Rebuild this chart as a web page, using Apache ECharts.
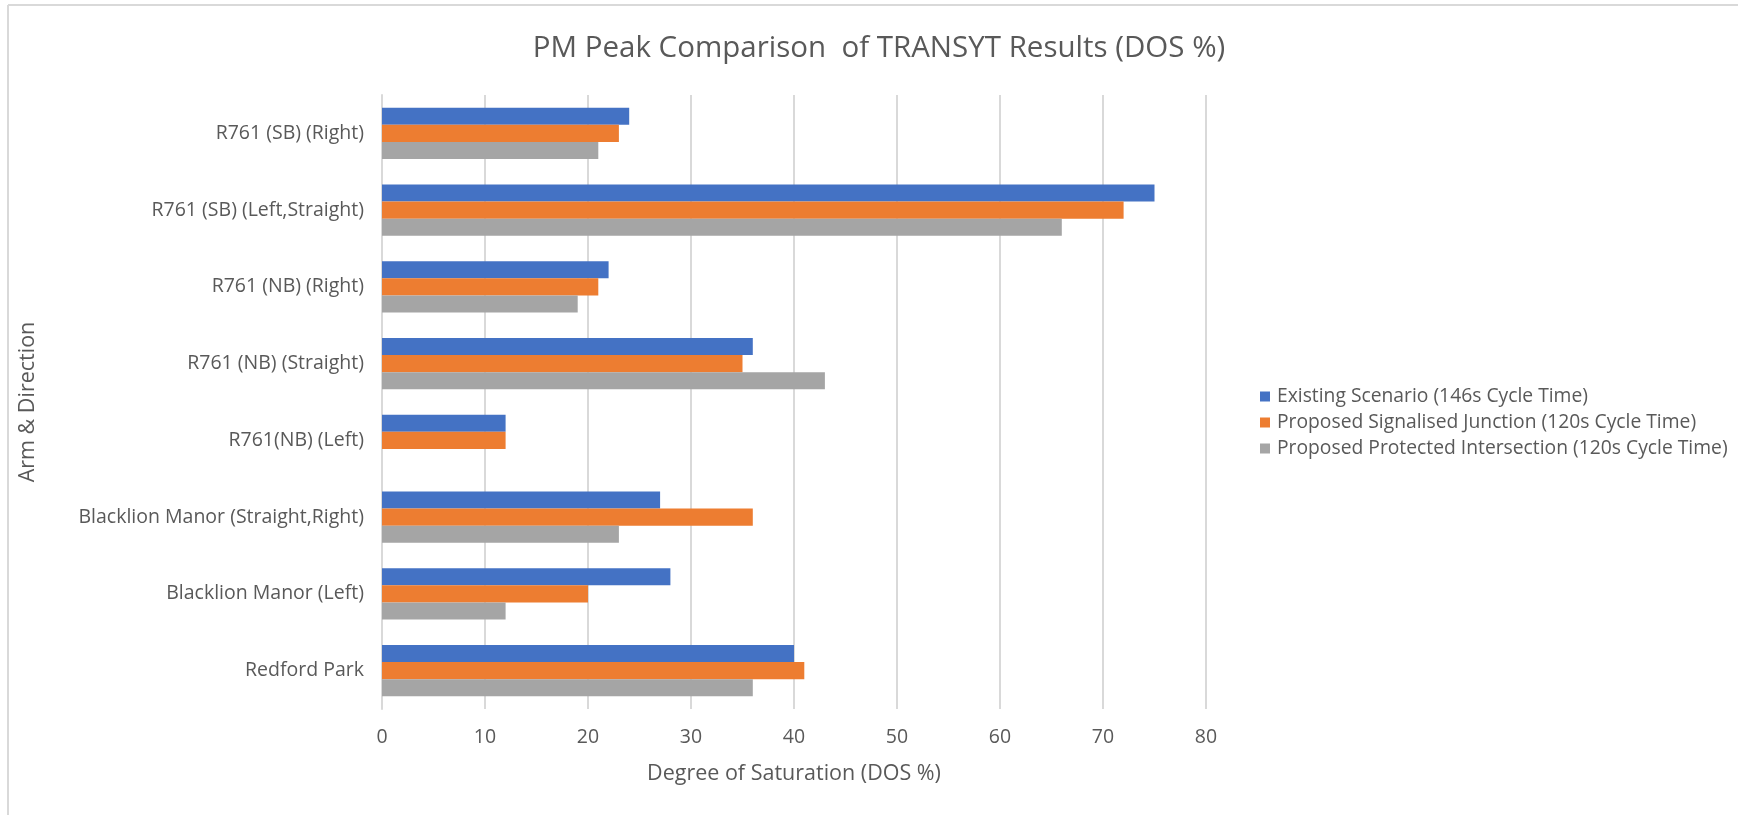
<!DOCTYPE html>
<html lang="en">

<head>
    <meta charset="UTF-8">
    <title>PM Peak Comparison of TRANSYT Results</title>
    <script src="https://cdn.jsdelivr.net/npm/echarts@6/dist/echarts.min.js"></script>
    <style>
        html, body { margin: 0; padding: 0; background: #fff; }
    </style>
</head>

<body>
<div id="main" style="width: 1738px; height: 815px;"></div>
<script>
    // categories, top to bottom as read on the chart
    const arms = [
        'R761 (SB) (Right)',
        'R761 (SB) (Left,Straight)',
        'R761 (NB) (Right)',
        'R761 (NB) (Straight)',
        'R761(NB) (Left)',
        'Blacklion Manor (Straight,Right)',
        'Blacklion Manor (Left)',
        'Redford Park'
    ]
    const existing = [24, 75, 22, 36, 12, 27, 28, 40]
    const signalised = [23, 72, 21, 35, 12, 36, 20, 41]
    const protectedInt = [21, 66, 19, 43, 0, 23, 12, 36]
    const seriesNames = [
        'Existing Scenario (146s Cycle Time)',
        'Proposed Signalised Junction (120s Cycle Time)',
        'Proposed Protected Intersection (120s Cycle Time)'
    ]
    const colors = ['#4472C4', '#ED7D31', '#A5A5A5']

    const font = 'Open Sans'
    const textColor = '#595959'
    const gridColor = '#D9D9D9'

    const chart = echarts.init(document.getElementById('main'))

    const mkSeries = (name, data, i) => ({
        name: name,
        type: 'bar',
        data: data,
        barGap: '0%',
        barCategoryGap: '33.5%',
        itemStyle: { color: colors[i] }
    })

    const option = {
        animation: false,
        backgroundColor: '#fff',
        textStyle: { fontFamily: font },
        title: {
            text: 'PM Peak Comparison  of TRANSYT Results (DOS %)',
            left: 874,
            top: 29,
            textAlign: 'center',
            textStyle: { fontFamily: font, fontSize: 29.5, fontWeight: 'normal', color: textColor }
        },
        legend: {
            orient: 'vertical',
            left: 1255,
            top: 381.5,
            itemWidth: 10,
            itemHeight: 10,
            itemGap: 6,
            icon: 'rect',
            data: seriesNames,
            textStyle: { fontFamily: font, fontSize: 19.3, lineHeight: 20, color: textColor, padding: [0, 0, 0, 2] }
        },
        grid: { left: 382, top: 95, width: 824, height: 614 },
        xAxis: {
            type: 'value',
            min: 0,
            max: 80,
            interval: 10,
            name: 'Degree of Saturation (DOS %)',
            nameLocation: 'middle',
            nameGap: 54,
            nameTextStyle: { fontFamily: font, fontSize: 21.5, color: textColor },
            axisLine: { show: false },
            axisTick: { show: false },
            axisLabel: { fontFamily: font, fontSize: 19.5, color: textColor, margin: 18 },
            splitLine: { lineStyle: { color: gridColor, width: 2 } }
        },
        yAxis: {
            type: 'category',
            inverse: true,
            data: arms,
            name: 'Arm & Direction',
            nameLocation: 'middle',
            nameGap: 343,
            nameTextStyle: { fontFamily: font, fontSize: 21.5, color: textColor },
            axisLine: { lineStyle: { color: gridColor, width: 2 } },
            axisTick: { show: false },
            axisLabel: { fontFamily: font, fontSize: 19.5, color: textColor, margin: 18 }
        },
        graphic: [
            { type: 'line', shape: { x1: 8, y1: 5, x2: 1738, y2: 5 }, style: { stroke: gridColor, lineWidth: 2 } },
            { type: 'line', shape: { x1: 8, y1: 5, x2: 8, y2: 815 }, style: { stroke: gridColor, lineWidth: 2 } }
        ],
        series: [
            mkSeries(seriesNames[0], existing, 0),
            mkSeries(seriesNames[1], signalised, 1),
            mkSeries(seriesNames[2], protectedInt, 2)
        ]
    }

    chart.setOption(option)
</script>
</body>

</html>
